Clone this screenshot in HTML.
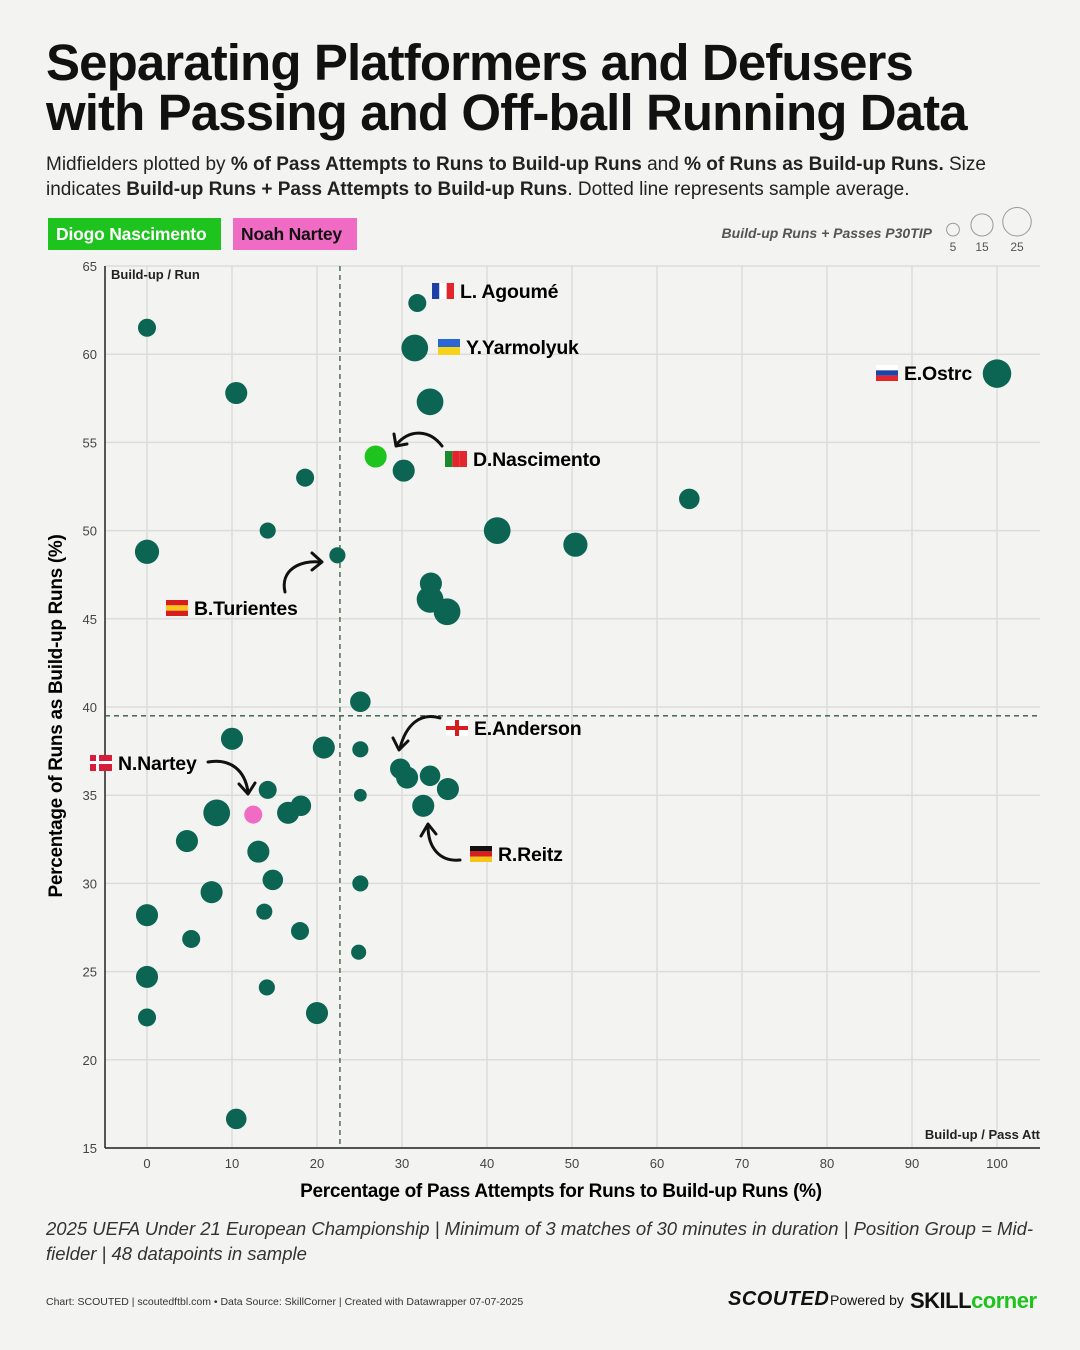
<!DOCTYPE html>
<html><head><meta charset="utf-8"><style>
body{margin:0;width:1080px;height:1350px;background:#f3f3f1;font-family:"Liberation Sans",sans-serif;overflow:hidden;position:relative;color:#111}
.title{position:absolute;left:46px;top:38px;font-size:51px;font-weight:bold;line-height:50px;letter-spacing:-0.9px;margin:0}
.sub{position:absolute;left:46px;top:152px;font-size:19px;line-height:25px;color:#222;width:1000px}
.badge{position:absolute;top:218px;height:32px;line-height:32px;font-size:17.5px;font-weight:bold;padding:0 8px;letter-spacing:-0.2px}
.note{position:absolute;left:46px;top:1216px;font-size:18.5px;line-height:25px;font-style:italic;color:#333;width:1000px}
.foot{position:absolute;left:46px;top:1296px;font-size:10.5px;color:#333}
.brand{position:absolute;top:1288px;font-weight:bold}
</style></head><body>
<h1 class="title">Separating Platformers and Defusers<br>with Passing and Off-ball Running Data</h1>
<div class="sub">Midfielders plotted by <b>% of Pass Attempts to Runs to Build-up Runs</b> and <b>% of Runs as Build-up Runs.</b> Size indicates <b>Build-up Runs + Pass Attempts to Build-up Runs</b>. Dotted line represents sample average.</div>
<div class="badge" style="left:48px;width:157px;background:#1ec31e;color:#fff">Diogo Nascimento</div>
<div class="badge" style="left:233px;width:108px;background:#f06cc4;color:#111">Noah Nartey</div>
<svg id="chart" width="1080" height="1350" style="position:absolute;left:0;top:0"></svg>
<div class="note">2025 UEFA Under 21 European Championship | Minimum of 3 matches of 30 minutes in duration | Position Group = Mid-fielder | 48 datapoints in sample</div>
<div class="foot">Chart: SCOUTED | scoutedftbl.com • Data Source: SkillCorner | Created with Datawrapper 07-07-2025</div>
<div class="brand" style="left:728px;font-size:20px;font-style:italic;font-weight:900;letter-spacing:0.5px">SCOUTED</div>
<div class="brand" style="left:830px;top:1292px;font-size:14px;font-weight:normal">Powered by</div>
<div class="brand" style="left:910px;font-size:22px;letter-spacing:-0.5px">SKILL<span style="color:#1ec31e">corner</span></div>
<script>
const xVals=[31.8,31.5,100,0,10.5,33.3,26.9,30.2,18.6,63.8,41.2,14.2,50.4,0,22.4,33.4,33.3,35.3,25.1,10,20.8,25.1,29.8,30.6,33.3,35.4,14.2,25.1,8.2,12.5,16.6,18.1,32.5,4.7,13.1,14.8,25.1,7.6,0,13.8,18.0,5.2,24.9,0,14.1,0,20,10.5];
const yVals=[62.9,60.35,58.9,61.5,57.8,57.3,54.2,53.4,53.0,51.8,50.0,50.0,49.2,48.8,48.6,47.0,46.1,45.4,40.3,38.2,37.7,37.6,36.5,36.0,36.1,35.35,35.3,35.0,34.0,33.9,34.0,34.4,34.4,32.4,31.8,30.2,30.0,29.5,28.2,28.4,27.3,26.85,26.1,24.7,24.1,22.4,22.65,16.65];
const sizes=[10,22,25,10,15,22,15,15,10,13,22,8,18,18,8,15,22,22,13,15,15,8,13,15,13,15,10,5,22,10,15,13,15,15,15,13,8,15,15,8,10,10,7,15,8,10,15,13];
const highlight=[0,0,0,0,0,0,1,0,0,0,0,0,0,0,0,0,0,0,0,0,0,0,0,0,0,0,0,0,0,2,0,0,0,0,0,0,0,0,0,0,0,0,0,0,0,0,0,0];
const xTicks=[0,10,20,30,40,50,60,70,80,90,100];
const yTicks=[15,20,25,30,35,40,45,50,55,60,65];
const avgX=22.7, avgY=39.5;
const legendSizes=[5,15,25];
const NS='http://www.w3.org/2000/svg';
const svg=document.getElementById('chart');
const X=v=>147+v*8.5, Y=v=>266+(65-v)*17.64, R=v=>2.85*Math.sqrt(v);
function mk(t,a,p){const e=document.createElementNS(NS,t);for(const k in a)e.setAttribute(k,a[k]);(p||svg).appendChild(e);return e;}
const L=105,RT=1040,T=266,B=1148;
yTicks.forEach(t=>{
 const g=mk('line',{x1:L,x2:RT,y1:Y(t),y2:Y(t),stroke:'#dcdcdc','stroke-width':1.5});
 
 
 const tx=mk('text',{x:97,y:Y(t)+5,'text-anchor':'end','font-size':13,fill:'#444'});tx.textContent=t;
 
 
});
xTicks.forEach(t=>{
 const g=mk('line',{x1:X(t),x2:X(t),y1:T,y2:B,stroke:'#dcdcdc','stroke-width':1.5});
 
 
 const tx=mk('text',{x:X(t),y:1168,'text-anchor':'middle','font-size':13,fill:'#444'});tx.textContent=t;
 
 
});
const ax1=mk('line',{x1:L,x2:L,y1:T,y2:B,stroke:'#222','stroke-width':1.5});


const ax2=mk('line',{x1:L,x2:RT,y1:B,y2:B,stroke:'#222','stroke-width':1.5});


const av1=mk('line',{x1:X(avgX),x2:X(avgX),y1:T,y2:B,stroke:'#2f5e3e','stroke-width':1.3,'stroke-dasharray':'5,4'});


const av2=mk('line',{x1:L,x2:RT,y1:Y(avgY),y2:Y(avgY),stroke:'#2f5e3e','stroke-width':1.3,'stroke-dasharray':'5,4'});


function txt(x,y,s,a,name){const t=mk('text',Object.assign({x:x,y:y},a));t.textContent=s;return t;}
txt(111,279,'Build-up / Run',{'font-size':13,'font-weight':'bold',fill:'#222'},'corner-label-top');
txt(1040,1139,'Build-up / Pass Att',{'font-size':13,'font-weight':'bold',fill:'#222','text-anchor':'end'},'corner-label-bottom');
txt(561,1197,'Percentage of Pass Attempts for Runs to Build-up Runs (%)',{'font-size':19,'font-weight':'bold','text-anchor':'middle','letter-spacing':'-0.3'},'x-axis-title');
txt(0,0,'Percentage of Runs as Build-up Runs (%)',{'font-size':19,'font-weight':'bold','text-anchor':'middle','letter-spacing':'-0.3',transform:'translate(62,716) rotate(-90)'},'y-axis-title');
txt(932,238,'Build-up Runs + Passes P30TIP',{'font-size':14,'font-weight':'bold','font-style':'italic',fill:'#555','text-anchor':'end'},'size-legend-title');
const lx=[953,982,1017];
legendSizes.forEach((s,i)=>{
 const c=mk('circle',{cx:lx[i],cy:236-R(s),r:R(s),fill:'none',stroke:'#999','stroke-width':1});
 
 
 txt(lx[i],251,s,{'font-size':12,fill:'#555','text-anchor':'middle'},'size-legend-label');
});
xVals.forEach((v,i)=>{
 const col=highlight[i]==1?'#1ec31e':highlight[i]==2?'#f06cc4':'#0b6552';
 const c=mk('circle',{cx:X(v),cy:Y(yVals[i]),r:R(sizes[i]),fill:col});
 
 
});
function flag(x,y,cols,dir,name){const g=mk('g',{});
 const w=22,h=16;cols.forEach((c,i)=>{if(dir=='v')mk('rect',{x:x+i*w/cols.length,y:y,width:w/cols.length,height:h,fill:c},g);else mk('rect',{x:x,y:y+i*h/cols.length,width:w,height:h/cols.length,fill:c},g);});}
const labels=[
 [432,283,'L. Agoumé',['#1f3fa8','#fff','#e3262e'],'v'],
 [438,339,'Y.Yarmolyuk',['#2a67d4','#f7d21b'],'h'],
 [876,365,'E.Ostrc',['#fff','#1f44a8','#e3262e'],'h'],
 [445,451,'D.Nascimento',['#1a8a2a','#e3262e','#e3262e'],'v'],
 [166,600,'B.Turientes',['#d61e1e','#f7c51b','#d61e1e'],'h'],
 [446,720,'E.Anderson',['#fff'],'h'],
 [90,755,'N.Nartey',['#d61e3a'],'h'],
 [470,846,'R.Reitz',['#111','#d61e1e','#f5c518'],'h']];
labels.forEach(l=>{flag(l[0],l[1],l[3],l[4],'flag-'+l[2].toLowerCase().replace(/[^a-z]/g,''));
 txt(l[0]+28,l[1]+15,l[2],{'font-size':19.5,'font-weight':'bold','letter-spacing':'-0.2'},'label-'+l[2].toLowerCase().replace(/[^a-z]/g,''));});
mk('rect',{x:455,y:720,width:4,height:16,fill:'#d61e1e'});mk('rect',{x:446,y:726,width:22,height:4,fill:'#d61e1e'});
mk('rect',{x:96,y:755,width:3,height:16,fill:'#fff'});mk('rect',{x:90,y:761,width:22,height:3,fill:'#fff'});
const arrows=[['M442,446 C430,430 410,428 396,445','M394,434 L396,446 L407,444'],
 ['M285,592 C280,570 300,560 320,562','M312,553 L322,562 L312,570'],
 ['M440,718 C420,712 406,725 400,748','M393,738 L399,750 L408,741'],
 ['M208,762 C230,758 245,770 248,792','M239,784 L248,794 L255,783'],
 ['M460,860 C440,862 428,848 428,826','M421,836 L428,824 L436,834']];
arrows.forEach(a=>{const g=mk('g',{fill:'none',stroke:'#111','stroke-width':3,'stroke-linecap':'round','stroke-linejoin':'round'});
 
 
 mk('path',{d:a[0]},g);mk('path',{d:a[1]},g);});
</script>
</body></html>
